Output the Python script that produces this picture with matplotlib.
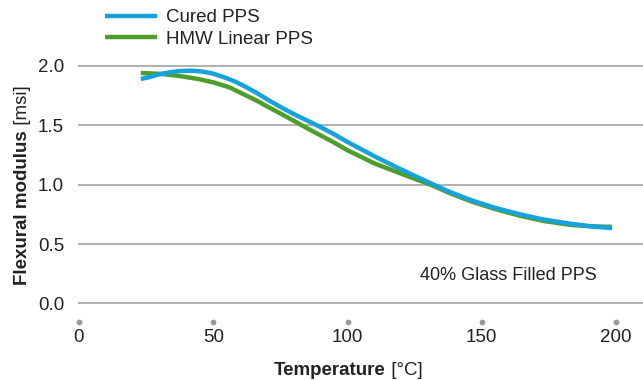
import numpy as np
import matplotlib.pyplot as plt
from matplotlib.transforms import IdentityTransform

plt.rcParams['font.family'] = ['Liberation Sans', 'DejaVu Sans']

# values
temp_cured = [23, 26, 30, 34, 38, 42, 46, 50, 54, 58, 62, 66, 70, 75, 80, 85, 90, 95,
              100, 105, 110, 118, 125, 131, 138, 146, 155, 164, 173, 183, 191, 198.5]
mod_cured = [1.89, 1.905, 1.93, 1.948, 1.958, 1.96, 1.953, 1.935, 1.905, 1.87, 1.825,
             1.775, 1.72, 1.655, 1.595, 1.54, 1.485, 1.425, 1.36, 1.30, 1.24, 1.15,
             1.075, 1.012, 0.94, 0.87, 0.805, 0.752, 0.707, 0.672, 0.648, 0.635]

temp_hmw = [23, 27, 31, 35, 39, 44, 50, 56, 61, 66, 70, 75, 80, 85, 90, 95, 100, 105,
            110, 118, 125, 131, 138, 146, 155, 164, 173, 183, 191, 198.5]
mod_hmw = [1.94, 1.937, 1.932, 1.922, 1.91, 1.892, 1.862, 1.82, 1.765, 1.71, 1.66, 1.60,
           1.538, 1.475, 1.415, 1.355, 1.29, 1.235, 1.18, 1.11, 1.05, 1.0, 0.93, 0.86,
           0.795, 0.74, 0.695, 0.662, 0.65, 0.645]

x_ticks = [0, 50, 100, 150, 200]
y_ticks = [0.0, 0.5, 1.0, 1.5, 2.0]

blue = '#17a2dd'
green = '#4e9e2c'
grid_c = '#aaaaaa'
text_c = '#222222'
fs = 13.5

fig = plt.figure(figsize=(6.43, 3.80), dpi=100)
ax = fig.add_axes([78 / 643, 0.1482, 1 - 78 / 643, 0.6845])

ax.plot(temp_hmw, mod_hmw, color=green, lw=3.2, solid_capstyle='butt',
        solid_joinstyle='round', label='HMW Linear PPS', zorder=3)
ax.plot(temp_cured, mod_cured, color=blue, lw=3.2, solid_capstyle='butt',
        solid_joinstyle='round', label='Cured PPS', zorder=4)

ax.set_xlim(-0.37, 210.05)
ax.set_ylim(-0.17, 2.02)
for s in ax.spines.values():
    s.set_visible(False)

for yv in y_ticks:
    ax.axhline(yv, color=grid_c, lw=1.3, zorder=1)

# grey dots standing in for the x tick marks
ax.scatter(x_ticks, [-0.16] * len(x_ticks), s=10, color='#999999', clip_on=False, zorder=2)

ax.set_xticks(x_ticks)
ax.set_xticklabels([str(v) for v in x_ticks])
ax.set_yticks(y_ticks)
ax.set_yticklabels(['%.1f' % v for v in y_ticks])
ax.tick_params(axis='both', length=0, labelsize=fs, colors=text_c)
ax.tick_params(axis='x', pad=4)
ax.tick_params(axis='y', pad=10)

ax.text(193, 0.232, '40% Glass Filled PPS', ha='right', va='center', fontsize=13, color=text_c)

handles, labels = ax.get_legend_handles_labels()
ax.legend(handles[::-1], labels[::-1], loc='upper left', bbox_to_anchor=(105 / 643, 0.976),
          bbox_transform=fig.transFigure, frameon=False, borderpad=0, borderaxespad=0,
          handlelength=2.75, handletextpad=0.5, labelspacing=0.25, fontsize=fs,
          labelcolor=text_c)

# axis titles: bold name followed by regular unit
fig.canvas.draw()
r = fig.canvas.get_renderer()
H = 380


def measure(s, weight):
    t = fig.text(0, 0, s, fontsize=fs, fontweight=weight)
    w = t.get_window_extent(r).width
    t.remove()
    return w


w1 = measure('Temperature', 'bold')
w2 = measure(' [°C]', 'normal')
x0 = 348 - (w1 + w2) / 2
base = H - 375
fig.text(x0, base, 'Temperature', fontsize=fs, fontweight='bold', color=text_c,
         ha='left', va='baseline', transform=IdentityTransform())
fig.text(x0 + w1, base, ' [°C]', fontsize=fs, color=text_c,
         ha='left', va='baseline', transform=IdentityTransform())

w1 = measure('Flexural modulus', 'bold')
w2 = measure(' [msi]', 'normal')
y0 = (H - 185) - (w1 + w2) / 2
bx = 27
fig.text(bx, y0, 'Flexural modulus', fontsize=fs, fontweight='bold', color=text_c,
         ha='left', va='baseline', rotation=90, rotation_mode='anchor', transform=IdentityTransform())
fig.text(bx, y0 + w1, ' [msi]', fontsize=fs, color=text_c,
         ha='left', va='baseline', rotation=90, rotation_mode='anchor', transform=IdentityTransform())

fig.savefig('out.png', dpi=100)
